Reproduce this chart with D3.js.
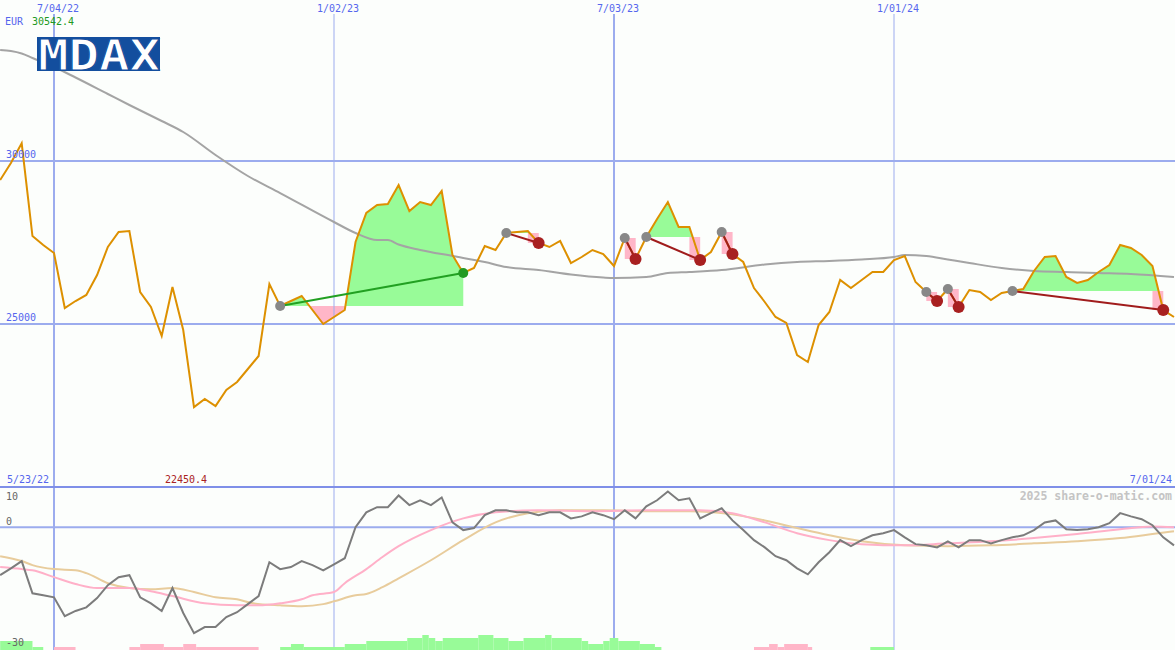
<!DOCTYPE html>
<html><head><meta charset="utf-8">
<script src="https://cdn.jsdelivr.net/npm/d3@7"></script>
<style>
html,body{margin:0;padding:0;background:#fcfefc;}
svg{display:block;}
text{font-family:"DejaVu Sans Mono",monospace;}
</style></head><body>
<svg id="chart" width="1175" height="650"></svg>
<script>
// ---------- DATA ----------
const priceValues = [29417,29939,30542.4,27699,27423,27178,25491,25705,25890,26503,
 27362,27822,27853,25982,25521,24632,26135,24816,22450.4,22699,
 22480,22975,23221,23620,24018,26227,25552,25705,25859,25429,
 25000,25215,25429,27515,28405,28650,28681,29264,28466,28742,
 28650,29080,27117,26564,26718,27393,27270,27791,27822,27850,
 27485,27362,27546,26871,27055,27270,27147,26779,27638,26994,
 27669,28221,28742,27975,27975,26963,27209,27822,27147,26902,
 26104,25675,25215,25031,24049,23834,24969,25368,26350,26104,
 26350,26595,26595,26963,27086,26288,25982,25705,26074,25521,
 26043,25982,25736,25951,26012,26074,26626,27055,27086,26442,
 26258,26350,26595,26810,27423,27331,27117,26779,25429,25215];

const maWeeks = [0,1,2,3,5,7,10,12,15,17,20,23,26,31,33,35,36,37,39,42,45,47,50,53,56,57,60,62,64,67,71,74,77,80,83,84,86,88,90,93,96,99,102,105,109];
const maValues = [33405,33374,33298,33160,32883,32561,32055,31718,31227,30890,30184,29540,29018,28129,27791,27577,27577,27439,27270,27086,26902,26748,26656,26518,26426,26411,26442,26564,26595,26656,26825,26902,26933,26979,27055,27117,27086,26979,26871,26718,26626,26595,26564,26534,26442];

const momentumValues = [-11.9,-10.2,-8.4,-16.4,-16.9,-17.4,-22.1,-20.8,-19.9,-17.6,
 -14.4,-12.4,-11.9,-17.4,-18.9,-20.8,-15.1,-21.3,-26.3,-24.8,
 -24.8,-22.3,-21.1,-19.1,-17.1,-8.7,-10.4,-9.9,-8.4,-9.4,
 -10.7,-9.2,-7.7,0,3.7,5.0,5.0,7.9,5.5,6.7,
 5.5,7.4,1.2,-0.7,-0.2,3.0,4.2,4.2,3.7,3.7,
 3.0,3.7,3.7,2.2,2.7,3.7,3.0,2.0,4.2,2.2,
 5.2,6.7,8.9,6.7,7.2,2.2,3.5,4.7,1.7,-0.7,
 -3.2,-5.0,-7.2,-8.2,-10.2,-11.7,-8.7,-6.2,-3.2,-4.7,
 -3.2,-2.0,-1.5,-0.7,-2.5,-4.2,-4.5,-5.0,-3.5,-5.0,
 -3.2,-3.2,-4.0,-3.2,-2.5,-2.0,-0.7,1.2,1.7,-0.5,
 -0.7,-0.5,0,1.0,3.5,2.7,2.0,0.5,-2.5,-4.5];

const pinkWeeks = [0,2,3,5,7,9,12,14,16,19,22,24,26,28,29,31,32,34,35.5,37,40,43,46,50,55,60,65,68,71,74,77,80,84,88,92,96,100,104,107,109];
const pinkValues = [-9.9,-10.4,-10.7,-12.4,-14.1,-15.1,-15.1,-15.9,-17.1,-18.9,-19.4,-19.4,-18.9,-17.9,-16.9,-16.1,-13.9,-10.4,-7.4,-4.7,-0.7,2.2,3.7,4.2,4.0,4.2,4.2,3.5,1.2,-1.5,-3.2,-4.2,-4.5,-4.0,-3.5,-2.7,-1.7,-0.5,0.2,0];

const tanWeeks = [0,2,3,5,7,8,10,12,14,16,18,20,22,23.5,26,28,30,31,33,34,35.5,37,40,43,46,49,52,56,60,64,68,71,74,77,80,84,88,92,96,100,104,107,109];
const tanValues = [-7.2,-8.4,-9.4,-10.4,-10.7,-11.4,-13.9,-15.1,-15.4,-15.1,-16.1,-17.4,-17.9,-18.9,-19.4,-19.6,-19.1,-18.4,-16.9,-16.6,-14.9,-12.7,-8.2,-3.2,1.2,3.5,4.2,4.2,4.0,4.0,3.2,1.7,-0.2,-2.0,-3.5,-4.5,-4.7,-4.5,-4.0,-3.5,-2.7,-1.7,-1.0];

const signalStart = [26,47,58,60,67,86,88,94];
const signalEnd   = [43,50,59,65,68,87,89,108];

const histStartDay = [0,15,25,60,65,76,85,91,130,135,141,160,170,189,196,199,202,205.5,222,229,236,243,253,256,270,273,280,283,287,297,304,350,357,361,364,375,404];
const histEndDay   = [15,20,35,65,76,85,91,120,135,141,160,170,189,196,199,202,205.5,222,229,236,243,253,256,270,273,280,283,287,297,304,307,357,361,364,375,377,415];
const histLevel    = [3,1,-1,-1,-2,-1,-2,-1,1,2,1,2,3,4,5,4,3,4,5,4,3,4,5,4,3,2,3,4,3,2,1,-1,-2,-1,-2,-1,1];

const tickWeeks = [5,31,57,83];
const tickLabels = ["7/04/22","1/02/23","7/03/23","1/01/24"];
const priceTicks = [30000,25000];
const momTickValues = [10,0,-30];
const momTickLabels = ["10","0","-30"];
const currency = "EUR";
const maxLabel = "30542.4";
const minLabel = "22450.4";
const startLabel = "5/23/22";
const endLabel = "7/01/24";
const title = "MDAX";
const credit = "2025 share-o-matic.com";

// ---------- SCALES ----------
const svg = d3.select("#chart");
const W = 1175;
const xw = d3.scaleLinear().domain([5,83]).range([54,894]);
const y = d3.scaleLinear().domain([25000,30000]).range([324,161]);
const ym = d3.scaleLinear().domain([-30,10]).range([648,487]);
const yh = d3.scaleLinear().domain([0,5]).range([650,635]);

const GRID = "#9cacee", LBL = "#5566ee";
const GREEN_FILL = "#98fb98", PINK_FILL = "#ffb6c8";

svg.append("rect").attr("width",W).attr("height",650).attr("fill","#fcfefc");

// ---------- SIGNAL FILLS ----------
const defs = svg.append("defs");
const fillG = svg.append("g");
signalStart.forEach((s,k)=>{
  const e = signalEnd[k];
  const base = priceValues[s];
  const yb = y(base);
  const idx = d3.range(s,e+1);
  const area = d3.area().x(i=>xw(i)).y0(yb).y1(i=>y(priceValues[i]));
  defs.append("clipPath").attr("id","ca"+k).append("rect")
    .attr("x",xw(s)).attr("y",0).attr("width",xw(e)-xw(s)).attr("height",yb);
  defs.append("clipPath").attr("id","cb"+k).append("rect")
    .attr("x",xw(s)).attr("y",yb).attr("width",xw(e)-xw(s)).attr("height",487-yb);
  fillG.append("path").attr("d",area(idx)).attr("fill",GREEN_FILL).attr("clip-path","url(#ca"+k+")");
  fillG.append("path").attr("d",area(idx)).attr("fill",PINK_FILL).attr("clip-path","url(#cb"+k+")");
  const pe = priceValues[e];
  fillG.append("rect").attr("x",xw(e-1)).attr("width",xw(e)-xw(e-1))
    .attr("y",Math.min(yb,y(pe))).attr("height",Math.abs(y(pe)-yb))
    .attr("fill", pe>=base?GREEN_FILL:PINK_FILL);
});

// ---------- GRID ----------
const grid = svg.append("g");
tickWeeks.forEach((w,i)=>{
  grid.append("line").attr("x1",xw(w)).attr("x2",xw(w)).attr("y1",14).attr("y2",650)
    .attr("stroke",GRID).attr("stroke-width", i%2===0?2:1);
});
priceTicks.forEach(v=>{
  grid.append("line").attr("x1",0).attr("x2",W).attr("y1",y(v)).attr("y2",y(v))
    .attr("stroke",GRID).attr("stroke-width",2);
});
grid.append("line").attr("x1",0).attr("x2",W).attr("y1",ym(10)).attr("y2",ym(10))
  .attr("stroke","#7f8fe8").attr("stroke-width",2);
grid.append("line").attr("x1",0).attr("x2",W).attr("y1",ym(0)).attr("y2",ym(0))
  .attr("stroke",GRID).attr("stroke-width",2);

// ---------- HISTOGRAM ----------
histLevel.forEach((lv,i)=>{
  const x0 = xw(histStartDay[i]/5), x1 = xw(histEndDay[i]/5);
  svg.append("rect").attr("x",x0).attr("width",x1-x0)
    .attr("y",yh(Math.abs(lv))).attr("height",yh(0)-yh(Math.abs(lv)))
    .attr("fill", lv>0?GREEN_FILL:PINK_FILL);
});

// ---------- LINES ----------
const maLine = d3.line().x((d,i)=>xw(maWeeks[i])).y(d=>y(d)).curve(d3.curveMonotoneX);
svg.append("path").attr("d",maLine(maValues)).attr("fill","none").attr("stroke","#a4a4a4").attr("stroke-width",2);

const priceLine = d3.line().x((d,i)=>xw(i)).y(d=>y(d));
svg.append("path").attr("d",priceLine(priceValues)).attr("fill","none").attr("stroke","#dd9000").attr("stroke-width",2);

const tanLine = d3.line().x((d,i)=>xw(tanWeeks[i])).y(d=>ym(d)).curve(d3.curveMonotoneX);
svg.append("path").attr("d",tanLine(tanValues)).attr("fill","none").attr("stroke","#e8cc9c").attr("stroke-width",2);
const pinkLine = d3.line().x((d,i)=>xw(pinkWeeks[i])).y(d=>ym(d)).curve(d3.curveMonotoneX);
svg.append("path").attr("d",pinkLine(pinkValues)).attr("fill","none").attr("stroke","#ffb0c8").attr("stroke-width",2);
const momLine = d3.line().x((d,i)=>xw(i)).y(d=>ym(d));
svg.append("path").attr("d",momLine(momentumValues)).attr("fill","none").attr("stroke","#7c7c7c").attr("stroke-width",2);

// ---------- SIGNALS ----------
signalStart.forEach((s,k)=>{
  const e = signalEnd[k];
  const win = priceValues[e] >= priceValues[s];
  svg.append("line").attr("x1",xw(s)).attr("y1",y(priceValues[s])).attr("x2",xw(e)).attr("y2",y(priceValues[e]))
    .attr("stroke", win?"#22a022":"#a01c1c").attr("stroke-width",2);
});
signalStart.forEach((s,k)=>{
  const e = signalEnd[k];
  const win = priceValues[e] >= priceValues[s];
  svg.append("circle").attr("cx",xw(s)).attr("cy",y(priceValues[s])).attr("r",5).attr("fill","#888888");
  svg.append("circle").attr("cx",xw(e)).attr("cy",y(priceValues[e])).attr("r",win?5:6).attr("fill",win?"#229a22":"#a82020");
});

// ---------- TEXT ----------
const T = (x,yy,t,col,anchor,size,weight)=>svg.append("text").attr("x",x).attr("y",yy).text(t)
  .attr("fill",col).attr("text-anchor",anchor||"start").attr("font-size",size||10).attr("font-weight",weight||"normal");
tickWeeks.forEach((w,i)=>T(xw(w)+4,12,tickLabels[i],LBL,"middle"));
T(5,25,currency,LBL);
T(32,25,maxLabel,"#229922");
priceTicks.forEach(v=>T(6,y(v)-3,String(v),LBL));
T(7,483,startLabel,LBL);
T(165,483,minLabel,"#aa2222");
T(1172,483,endLabel,LBL,"end");
T(1172,500,credit,"#c4c4c4","end",11.5,"bold");
T(6,500,momTickLabels[0],"#666");
T(6,525,momTickLabels[1],"#666");
T(6,646,momTickLabels[2],"#666");

// logo
svg.append("rect").attr("x",37).attr("y",37).attr("width",123).attr("height",34).attr("fill","#134e9e");
svg.append("text").attr("x",38).attr("y",70).text(title)
  .attr("font-family","Liberation Sans, Arial, sans-serif").attr("font-weight","bold").attr("font-size",42)
  .attr("textLength",122).attr("lengthAdjust","spacingAndGlyphs").attr("fill","#ffffff")
  .attr("stroke","#134e9e").attr("stroke-width",1);
</script>
</body></html>
